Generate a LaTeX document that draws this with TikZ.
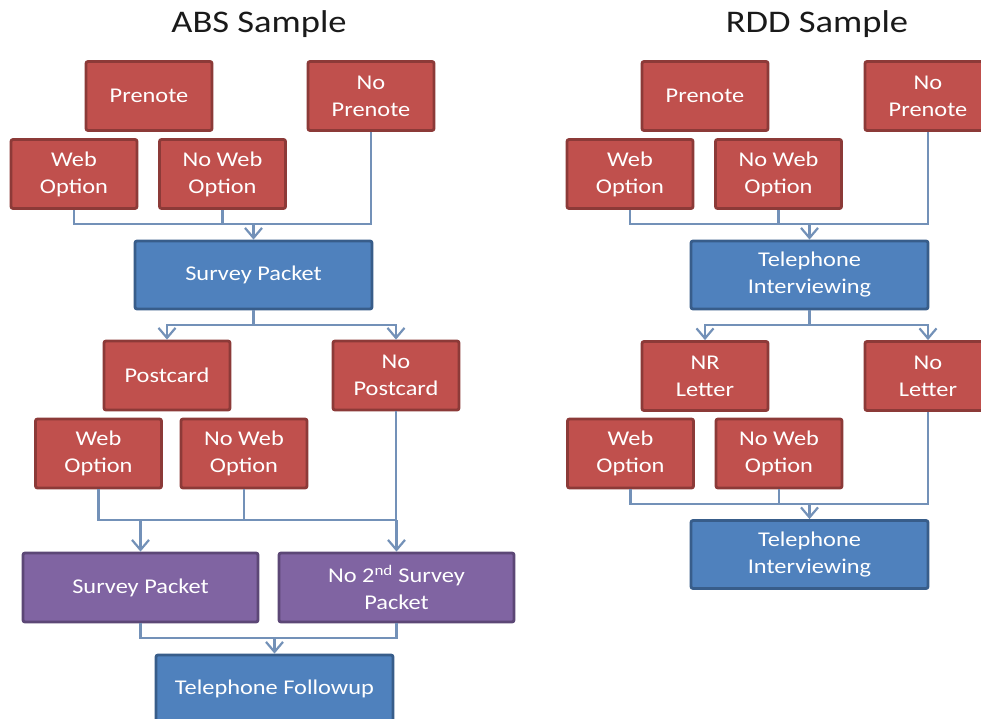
\documentclass[tikz,border=0pt]{standalone}
\usepackage{fontspec}
\setmainfont{Carlito}[FakeStretch=1.16]
\usetikzlibrary{arrows.meta}
\definecolor{redfill}{HTML}{C0504D}
\definecolor{reddraw}{HTML}{8C3A38}
\definecolor{bluefill}{HTML}{4F81BD}
\definecolor{bluedraw}{HTML}{385D8A}
\definecolor{purpfill}{HTML}{8064A2}
\definecolor{purpdraw}{HTML}{5C4776}
\definecolor{conncol}{HTML}{7391B8}
\definecolor{titlecol}{HTML}{1A1A1A}
\tikzset{
  box/.style={rectangle, rounded corners=2pt, line width=2.8pt, text=white,
    align=center, inner sep=0pt, font=\fontsize{21}{27}\selectfont},
  redbox/.style={box, fill=redfill, draw=reddraw, minimum width=126pt, minimum height=69pt},
  bluebox/.style={box, fill=bluefill, draw=bluedraw, minimum width=237pt, minimum height=68pt},
  purpbox/.style={box, fill=purpfill, draw=purpdraw, minimum width=235pt, minimum height=69pt},
  conn/.style={draw=conncol, line width=2.4pt},
  arr/.style={conn, -{Straight Barb[length=10pt,width=17pt,line width=2.2pt]}},
  ttl/.style={text=titlecol, font=\fontsize{31.5}{36}\selectfont, inner sep=0pt, anchor=base}
}
\begin{document}
\begin{tikzpicture}[x=1pt,y=-1pt]
\useasboundingbox (0,0) rectangle (981,719);
\fill[white] (0,0) rectangle (981,719);

% titles
\node[ttl] (tabs) at (259,33) {ABS Sample};
\node[ttl] (trdd) at (817,33) {RDD Sample};

% ABS boxes
\node[redbox] (pre1) at (149,96) {Prenote};
\node[redbox] (nopre1) at (371,96) {No\\Prenote};
\node[redbox] (web1) at (74,174) {Web\\Option};
\node[redbox] (noweb1) at (222.5,174) {No Web\\Option};
\node[bluebox] (sp1) at (253.5,275) {Survey Packet};
\node[redbox] (post) at (167,375.5) {Postcard};
\node[redbox] (nopost) at (396,375.5) {No\\Postcard};
\node[redbox] (web2) at (98.5,453.5) {Web\\Option};
\node[redbox] (noweb2) at (244,453.5) {No Web\\Option};
\node[purpbox] (sp2) at (140.5,587.5) {Survey Packet};
\node[purpbox] (no2) at (396.5,587.5) {No 2\textsuperscript{nd} Survey\\Packet};
\node[bluebox] (tf) at (274.5,689) {Telephone Followup};

% RDD boxes
\node[redbox] (pre2) at (705,96) {Prenote};
\node[redbox] (nopre2) at (928,96) {No\\Prenote};
\node[redbox] (web3) at (630,174) {Web\\Option};
\node[redbox] (noweb3) at (778.5,174) {No Web\\Option};
\node[bluebox] (ti1) at (809.5,275) {Telephone\\Interviewing};
\node[redbox] (nr) at (705,376) {NR\\Letter};
\node[redbox] (nolet) at (928,376) {No\\Letter};
\node[redbox] (web4) at (630.5,453.5) {Web\\Option};
\node[redbox] (noweb4) at (779,453.5) {No Web\\Option};
\node[bluebox] (ti2) at (809.5,554.5) {Telephone\\Interviewing};

% ABS connectors
\coordinate (r1) at (253.5,224);
\draw[conn] (web1.south) -- (web1.south |- r1) -- (nopre1.south |- r1) -- (nopre1.south);
\draw[conn] (noweb1.south) -- (noweb1.south |- r1);
\draw[arr] (r1) -- (sp1.north);

\coordinate (r2) at (253.5,325);
\draw[conn] (sp1.south) -- (r2);
\draw[arr] (r2) -- (post.north |- r2) -- (post.north);
\draw[arr] (r2) -- (nopost.north |- r2) -- (nopost.north);

\coordinate (r3) at (396.5,520);
\draw[conn] (web2.south) -- (web2.south |- r3) -- (r3);
\draw[conn] (noweb2.south) -- (noweb2.south |- r3);
\draw[conn] (nopost.south) -- (nopost.south |- r3);
\draw[arr] (sp2.north |- r3) -- (sp2.north);
\draw[arr] (r3) -- (no2.north);

\coordinate (r4) at (274.5,638);
\draw[conn] (sp2.south) -- (sp2.south |- r4) -- (no2.south |- r4) -- (no2.south);
\draw[arr] (r4) -- (tf.north);

% RDD connectors
\coordinate (r5) at (809.5,224);
\draw[conn] (web3.south) -- (web3.south |- r5) -- (nopre2.south |- r5) -- (nopre2.south);
\draw[conn] (noweb3.south) -- (noweb3.south |- r5);
\draw[arr] (r5) -- (ti1.north);

\coordinate (r6) at (809.5,325);
\draw[conn] (ti1.south) -- (r6);
\draw[arr] (r6) -- (nr.north |- r6) -- (nr.north);
\draw[arr] (r6) -- (nolet.north |- r6) -- (nolet.north);

\coordinate (r7) at (809.5,504);
\draw[conn] (web4.south) -- (web4.south |- r7) -- (nolet.south |- r7) -- (nolet.south);
\draw[conn] (noweb4.south) -- (noweb4.south |- r7);
\draw[arr] (r7) -- (ti2.north);
\end{tikzpicture}
\end{document}
